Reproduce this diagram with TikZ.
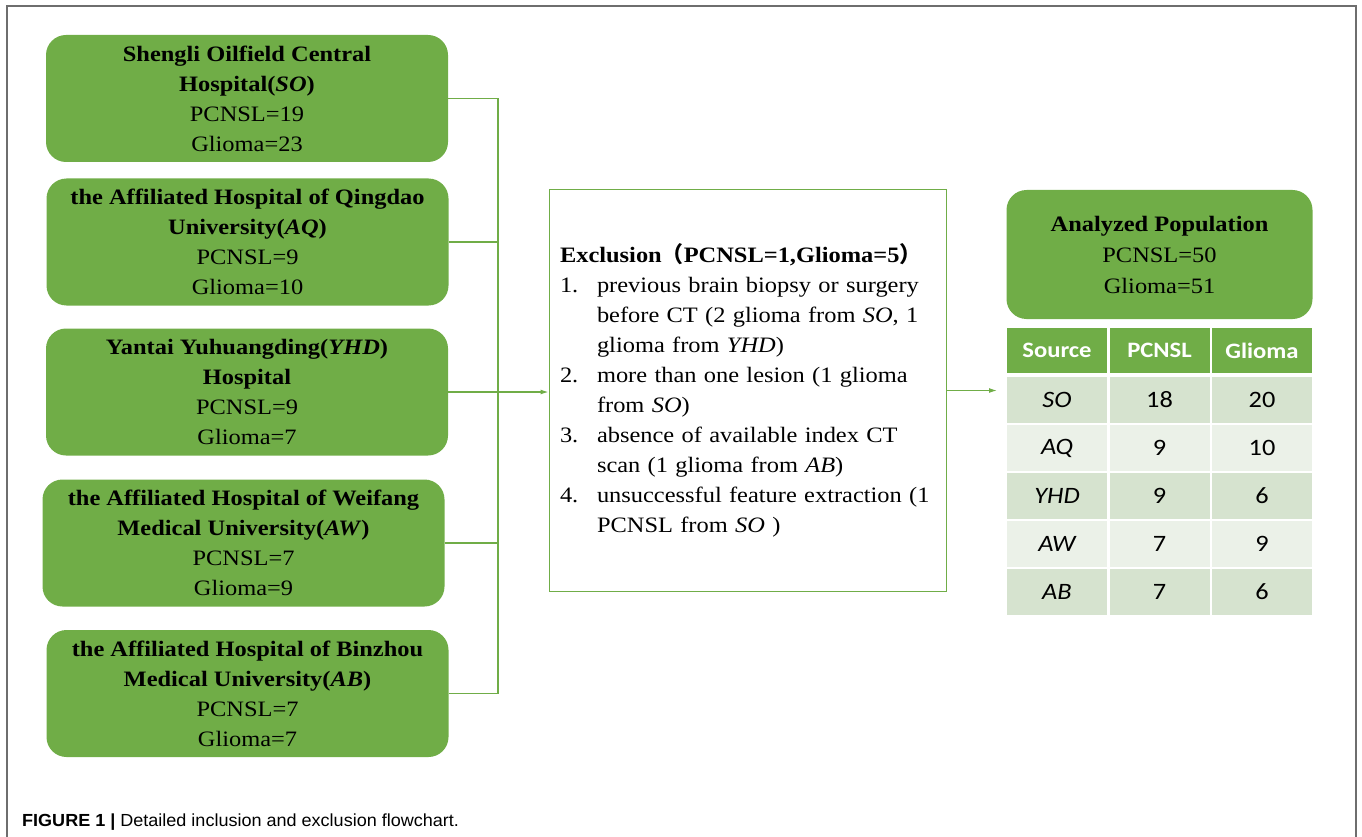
\documentclass[tikz,border=0pt]{standalone}
\usepackage{fontspec}
\setmainfont[FakeStretch=1.11]{Liberation Serif}
\setsansfont[FakeStretch=1.03]{Liberation Sans}
\newfontfamily\calibri[FakeStretch=1.12]{Carlito}
\newfontfamily\cjk{Noto Sans CJK SC}
\usetikzlibrary{arrows.meta,positioning}
\definecolor{sitegreen}{RGB}{112,173,71}
\definecolor{banddark}{RGB}{214,227,207}
\definecolor{bandlight}{RGB}{235,241,232}
\definecolor{framegray}{RGB}{110,110,110}
\newcommand\numbox[1]{\makebox[37pt][l]{#1}}
\tikzset{
  site/.style={rounded corners=20pt, fill=sitegreen, minimum width=402pt, minimum height=127pt, align=center, inner sep=0pt, font=\fontsize{22}{30}\selectfont},
  exclbox/.style={draw=sitegreen, line width=1pt, minimum width=397pt, minimum height=401pt, text width=375pt, inner xsep=11pt, align=left, font=\fontsize{22}{30}\selectfont},
  link/.style={sitegreen, line width=1.2pt},
  cell/.style={minimum width=100pt, minimum height=46pt, inner sep=0pt, font=\calibri\fontsize{23.5}{26}\selectfont},
  headcell/.style={cell, fill=sitegreen, minimum height=45pt, text=white, font=\calibri\bfseries\fontsize{22}{26}\selectfont},
}
\begin{document}
\begin{tikzpicture}[x=1pt, y=-1pt, >={Latex[length=8pt,width=5pt]}]
  \useasboundingbox (0,0) rectangle (1362,837);
  % Frame
  \draw[framegray, line width=1.5pt] (7,837) -- (7,6) -- (1356,6) -- (1356,837);

  % Hospitals
  \node[site] (so) at (247,98.5) {\textbf{Shengli Oilfield Central}\\\textbf{Hospital(\textit{SO})}\\PCNSL=19\\Glioma=23};
  \node[site] (aq) at (247.5,242) {\textbf{the Affiliated Hospital of Qingdao}\\\textbf{University(\textit{AQ})}\\PCNSL=9\\Glioma=10};
  \node[site] (yhd) at (247,392) {\textbf{Yantai Yuhuangding(\textit{YHD})}\\\textbf{Hospital}\\PCNSL=9\\Glioma=7};
  \node[site] (aw) at (243.5,543) {\textbf{the Affiliated Hospital of Weifang}\\\textbf{Medical University(\textit{AW})}\\PCNSL=7\\Glioma=9};
  \node[site] (ab) at (247.5,693.5) {\textbf{the Affiliated Hospital of Binzhou}\\\textbf{Medical University(\textit{AB})}\\PCNSL=7\\Glioma=7};

  % Exclusion
  \node[exclbox] (excl) at (747.5,390.5) {\textbf{Exclusion{\cjk （}PCNSL=1,Glioma=5{\cjk ）}}\\
    \numbox{1.}previous brain biopsy or surgery\\
    \hspace*{37pt}before CT (2 glioma from \textit{SO}, 1\\
    \hspace*{37pt}glioma from \textit{YHD})\\
    \numbox{2.}more than one lesion (1 glioma\\
    \hspace*{37pt}from \textit{SO})\\
    \numbox{3.}absence of available index CT\\
    \hspace*{37pt}scan (1 glioma from \textit{AB})\\
    \numbox{4.}\mbox{unsuccessful feature extraction (1}\\
    \hspace*{37pt}PCNSL from \textit{SO} )};

  % Analyzed population
  \node[site, minimum width=306pt, minimum height=129pt, font=\fontsize{22}{31}\selectfont] (pop) at (1159.5,254.5) {\textbf{Analyzed Population}\\PCNSL=50\\Glioma=51};

  % Table
  \node[headcell] (hsrc) at (1057,350.5) {Source};
  \node[headcell] (hpc) at (1159.5,350.5) {PCNSL};
  \node[headcell] (hgl) at (1262,350.5) {Glioma};
  \foreach \src/\pc/\gl [count=\i] in {SO/18/20, AQ/9/10, YHD/9/6, AW/7/9, AB/7/6}{
    \pgfmathsetmacro\ry{400+(\i-1)*48}
    \ifodd\i \def\band{banddark}\else \def\band{bandlight}\fi
    \node[cell, fill=\band] (src\i) at (1057,\ry) {\itshape\src};
    \node[cell, fill=\band] (pc\i) at (1159.5,\ry) {\pc};
    \node[cell, fill=\band] (gl\i) at (1262,\ry) {\gl};
  }

  % Connectors
  \coordinate (bus) at (498,392);
  \coordinate (tblin) at (997,390.5);
  \foreach \n in {so,aq,yhd,aw,ab}
    \draw[link] (\n.east) -- (\n.east -| bus);
  \draw[link] (so.east -| bus) -- (ab.east -| bus);
  \draw[link,->] (bus) -- (bus -| excl.west);
  \draw[link,->] (excl.east) -- (tblin);

  % Caption
  \node[anchor=base west, inner sep=0pt, font=\sffamily\fontsize{17.5}{20}\selectfont] (caption) at (22,826) {\textbf{FIGURE 1 |} Detailed inclusion and exclusion flowchart.};
\end{tikzpicture}
\end{document}
